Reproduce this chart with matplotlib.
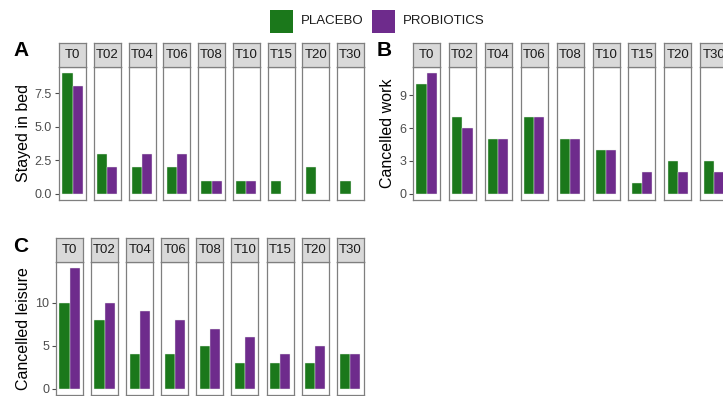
import matplotlib
matplotlib.use("Agg")
import matplotlib.pyplot as plt
from matplotlib.patches import Rectangle

plt.rcParams["font.family"] = ["Liberation Sans", "DejaVu Sans"]

times = ["T0", "T02", "T04", "T06", "T08", "T10", "T15", "T20", "T30"]
groups = ["PLACEBO", "PROBIOTICS"]
colors = {"PLACEBO": "#1B781B", "PROBIOTICS": "#6E2B8C"}

bed_placebo = [9, 3, 2, 2, 1, 1, 1, 2, 1]
bed_probiotics = [8, 2, 3, 3, 1, 1, 0, 0, 0]
work_placebo = [10, 7, 5, 7, 5, 4, 1, 3, 3]
work_probiotics = [11, 6, 5, 7, 5, 4, 2, 2, 2]
leisure_placebo = [10, 8, 4, 4, 5, 3, 3, 3, 4]
leisure_probiotics = [14, 10, 9, 8, 7, 6, 4, 5, 4]

W, H = 723, 396
fig = plt.figure(figsize=(W / 100, H / 100), dpi=100)

def px(x0, y0, w, h):
    # pixel box (top-left origin) -> figure fraction
    return [x0 / W, 1 - (y0 + h) / H, w / W, h / H]

edge = "#7F7F7F"
tick_col = "#4D4D4D"

def panel(letter, ylabel, placebo, probiotics, ticks, ticklabels,
          left, step, top, lab_x):
    ymax = max(max(placebo), max(probiotics))
    pad = ymax * 0.05
    strip_h, panel_h, fw = 24, 133, 27
    for i, t in enumerate(times):
        x0 = left + i * step
        ax = fig.add_axes(px(x0, top + strip_h, fw, panel_h))
        vals = [placebo[i], probiotics[i]]
        for j, g in enumerate(groups):
            if vals[j] > 0:
                ax.bar(-0.225 + j * 0.45, vals[j], width=0.45,
                       color=colors[g], edgecolor="#E8F0E8", linewidth=0.3)
        ax.set_xlim(-0.6, 0.6)
        ax.set_ylim(-pad, ymax + pad)
        ax.set_xticks([])
        for s in ax.spines.values():
            s.set_color(edge)
            s.set_linewidth(0.9)
        if i == 0:
            ax.set_yticks(ticks)
            ax.set_yticklabels(ticklabels, color=tick_col, fontsize=9)
            ax.tick_params(axis="y", length=3, color=tick_col, width=0.8, pad=2)
            ax.set_ylabel(ylabel, fontsize=11.5, labelpad=3)
        else:
            ax.set_yticks([])
        sax = fig.add_axes(px(x0, top, fw, strip_h))
        sax.set_facecolor("#D9D9D9")
        sax.set_xticks([])
        sax.set_yticks([])
        for s in sax.spines.values():
            s.set_color(edge)
            s.set_linewidth(0.9)
        sax.text(0.5, 0.5, t, ha="center", va="center", fontsize=9.5,
                 color="#1A1A1A", transform=sax.transAxes)
    fig.text(lab_x / W, 1 - (top + 8) / H, letter, fontsize=15,
             fontweight="bold", ha="left", va="center")

panel("A", "Stayed in bed", bed_placebo, bed_probiotics,
      [0, 2.5, 5, 7.5], ["0.0", "2.5", "5.0", "7.5"], 59, 34.75, 43, 13)
panel("B", "Cancelled work", work_placebo, work_probiotics,
      [0, 3, 6, 9], ["0", "3", "6", "9"], 413, 35.9, 43, 377)
panel("C", "Cancelled leisure", leisure_placebo, leisure_probiotics,
      [0, 5, 10], ["0", "5", "10"], 56, 35.1, 238, 13)

# legend at top
for x0, tx, g in [(270, 301, "PLACEBO"), (372, 403, "PROBIOTICS")]:
    fig.patches.append(Rectangle((x0 / W, 1 - 33 / H), 23 / W, 23 / H,
                                 transform=fig.transFigure,
                                 facecolor=colors[g], edgecolor="none"))
    fig.text(tx / W, 1 - 21.5 / H, g, fontsize=9.5, color="#1A1A1A",
             ha="left", va="center")

fig.savefig("out.png", dpi=100)
